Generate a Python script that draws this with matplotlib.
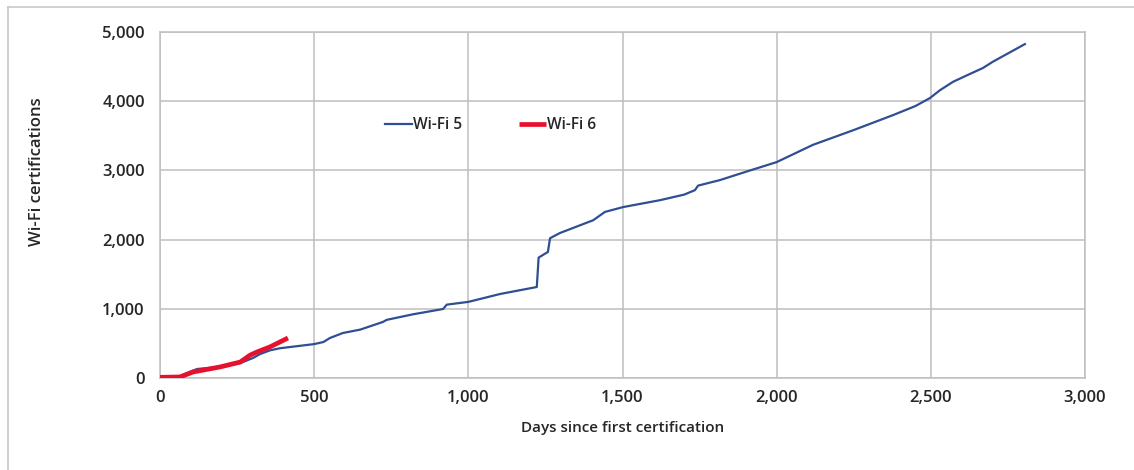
import matplotlib
matplotlib.use("Agg")
import matplotlib.pyplot as plt
from matplotlib.ticker import FuncFormatter

plt.rcParams['font.family'] = ['Open Sans', 'DejaVu Sans']

# Wi-Fi 5 cumulative certifications (days, count)
wifi5_days = [0, 30, 65, 120, 195, 260, 302, 324, 357, 389, 500, 530, 551, 593, 650,
              723, 735, 820, 918, 930, 1000, 1103, 1222, 1228, 1250, 1258, 1265, 1297,
              1405, 1443, 1502, 1622, 1700, 1735, 1745, 1816, 1900, 2000, 2118, 2248,
              2378, 2450, 2497, 2530, 2572, 2620, 2669, 2701, 2805]
wifi5_vals = [0, 10, 30, 130, 160, 215, 290, 345, 400, 430, 490, 520, 578, 650, 700,
              810, 840, 920, 997, 1060, 1100, 1214, 1315, 1740, 1800, 1820, 2020, 2095,
              2280, 2400, 2470, 2570, 2650, 2715, 2780, 2860, 2980, 3120, 3370, 3580,
              3800, 3930, 4045, 4160, 4280, 4380, 4480, 4570, 4825]

# Wi-Fi 6 cumulative certifications
wifi6_days = [0, 65, 107, 195, 260, 292, 314, 357, 415]
wifi6_vals = [10, 15, 87, 160, 230, 330, 375, 450, 578]

x_ticks = [0, 500, 1000, 1500, 2000, 2500, 3000]
y_ticks = [0, 1000, 2000, 3000, 4000, 5000]

fig = plt.figure(figsize=(11.34, 4.70), dpi=100)
ax = fig.add_axes([160/1134, 1-378/470, 925/1134, 346/470])

ax.plot(wifi5_days, wifi5_vals, color='#2F4F93', lw=1.6, label='Wi-Fi 5', zorder=3)
ax.plot(wifi6_days, wifi6_vals, color='#E8112D', lw=3.4, label='Wi-Fi 6', zorder=4,
        solid_capstyle='butt')

ax.set_xlim(0, 3000)
ax.set_ylim(0, 5000)
ax.set_xticks(x_ticks)
ax.set_yticks(y_ticks)
fmt = FuncFormatter(lambda v, p: f"{int(v):,}")
ax.xaxis.set_major_formatter(fmt)
ax.yaxis.set_major_formatter(fmt)
ax.grid(True, color='#BFBFBF', lw=1.1)
ax.set_axisbelow(True)
for s in ax.spines.values():
    s.set_color('#BFBFBF')
    s.set_linewidth(1.1)
ax.tick_params(axis='x', length=0, labelsize=12, colors='#262626', pad=9)
ax.tick_params(axis='y', length=0, labelsize=12, colors='#262626', pad=11)
for lab in ax.get_xticklabels() + ax.get_yticklabels():
    lab.set_fontweight('semibold')

ax.set_xlabel('Days since first certification', fontsize=11, color='#262626',
              fontweight='semibold', va='top')
ax.xaxis.set_label_coords(0.5, -(421-378)/346)
ax.set_ylabel('Wi-Fi certifications', fontsize=12, color='#262626',
              fontweight='semibold', va='center', ha='center')
ax.yaxis.set_label_coords((37-160)/925, (378-172)/346)

leg = ax.legend(loc='center left', bbox_to_anchor=((385-160)/925, (378-125)/346), ncol=2,
                frameon=False, borderpad=0, borderaxespad=0,
                handlelength=1.75, handletextpad=0.08, columnspacing=3.6,
                prop={'size': 11.2, 'weight': 'semibold'})
for t in leg.get_texts():
    t.set_color('#262626')

# outer frame lines (left and top)
fig.add_artist(plt.Line2D([8/1134, 8/1134], [0, 1-7/470], transform=fig.transFigure,
                          color='#C8C8C8', lw=1.2))
fig.add_artist(plt.Line2D([8/1134, 1], [1-7/470, 1-7/470], transform=fig.transFigure,
                          color='#C8C8C8', lw=1.2))

fig.savefig('out.png', dpi=100)
